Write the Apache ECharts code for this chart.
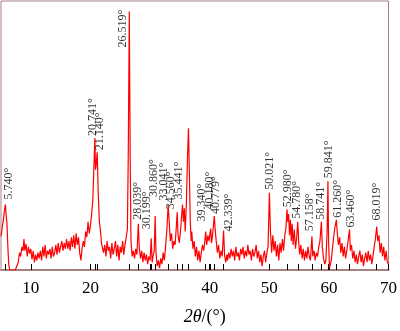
<!DOCTYPE html>
<html>
<head>
<meta charset="utf-8">
<script src="https://cdn.jsdelivr.net/npm/echarts@6/dist/echarts.min.js"></script>
<style>
  html, body { margin: 0; padding: 0; background: #ffffff; }
  #chart { width: 400px; height: 331px; }
</style>
</head>
<body>
<div id="chart"></div>
<script>
// Axis ticks along 2θ
const xTicks = [10, 20, 30, 40, 50, 60, 70];

// Indexed reflections (2θ, degrees)
const peakAngles = [5.74, 20.741, 21.14, 26.519, 28.039, 30.199, 30.86, 33.041, 34.56, 35.441,
  39.34, 40.18, 40.779, 42.339, 50.021, 52.98, 54.78, 57.158, 58.741, 59.841, 61.26, 63.46, 68.019];

// Reference stick without a text label
const extraSticks = [36.45];

// Diffraction pattern: [2θ, intensity]
const profile = [
  [5.0,35],[5.2,44],[5.4,52],[5.6,63],[5.74,68],[5.85,58],[6.0,48],[6.15,24],[6.3,6],[6.45,0],
  [6.6,0],[7.0,0],[7.4,0],[7.7,0],[7.9,8],[8.1,18],[8.3,14],[8.5,24],[8.7,20],[8.85,32],
  [9.0,20],[9.2,27],[9.4,14],[9.6,24],[9.8,17],[10.0,22],[10.2,11],[10.4,20],[10.6,8],[10.8,16],
  [11.0,10],[11.2,18],[11.4,12],[11.6,20],[11.8,10],[12.0,24],[12.2,14],[12.4,26],[12.6,12],[12.8,20],
  [13.0,16],[13.2,22],[13.4,12],[13.6,24],[13.8,14],[14.0,18],[14.2,26],[14.4,16],[14.6,28],[14.8,18],
  [15.0,24],[15.2,30],[15.4,20],[15.6,28],[15.8,22],[16.0,32],[16.2,22],[16.4,30],[16.6,20],[16.8,34],
  [17.0,24],[17.2,36],[17.4,22],[17.6,38],[17.8,26],[18.0,34],[18.2,18],[18.4,10],[18.6,22],[18.8,30],
  [19.0,24],[19.2,40],[19.4,34],[19.6,50],[19.8,38],[20.0,46],[20.2,58],[20.4,72],[20.6,110],[20.741,137],
  [20.85,104],[20.95,108],[21.14,122],[21.3,82],[21.5,50],[21.7,40],[21.85,28],[22.0,30],[22.2,18],[22.4,26],
  [22.6,14],[22.8,30],[23.0,20],[23.2,24],[23.4,12],[23.6,28],[23.8,16],[24.0,22],[24.2,30],[24.4,14],
  [24.6,26],[24.8,10],[25.0,24],[25.2,18],[25.4,30],[25.6,16],[25.8,26],[26.0,34],[26.2,42],[26.35,120],
  [26.519,268],[26.68,110],[26.8,30],[27.0,14],[27.2,20],[27.4,12],[27.6,22],[27.8,16],[28.039,48],[28.2,22],
  [28.4,12],[28.6,20],[28.8,8],[29.0,18],[29.2,10],[29.4,16],[29.6,6],[29.8,14],[30.0,10],[30.199,33],
  [30.35,8],[30.5,14],[30.7,20],[30.86,56],[31.0,18],[31.2,4],[31.4,10],[31.6,2],[31.8,12],[32.0,6],
  [32.2,18],[32.4,10],[32.6,24],[32.8,40],[33.041,67],[33.2,52],[33.4,30],[33.6,38],[33.8,22],[34.0,30],
  [34.2,26],[34.4,44],[34.56,60],[34.7,36],[34.9,28],[35.1,40],[35.3,56],[35.441,68],[35.6,50],[35.75,64],
  [35.9,40],[36.1,70],[36.3,120],[36.45,147],[36.6,100],[36.75,50],[36.9,30],[37.0,40],[37.2,22],[37.4,30],
  [37.6,14],[37.8,24],[38.0,10],[38.2,20],[38.4,8],[38.6,18],[38.8,26],[39.0,20],[39.2,30],[39.34,40],
  [39.5,26],[39.7,36],[39.9,30],[40.05,38],[40.18,43],[40.3,28],[40.45,34],[40.6,44],[40.779,56],[40.9,44],
  [41.1,30],[41.3,18],[41.5,26],[41.7,12],[41.9,20],[42.1,14],[42.339,41],[42.5,16],[42.7,8],[42.9,16],
  [43.0,10],[43.2,18],[43.4,12],[43.6,22],[43.8,14],[44.0,20],[44.2,10],[44.4,24],[44.6,14],[44.8,18],
  [45.0,10],[45.2,22],[45.4,16],[45.6,24],[45.8,12],[46.0,20],[46.2,14],[46.4,26],[46.6,16],[46.8,20],
  [47.0,10],[47.2,22],[47.4,14],[47.6,18],[47.8,26],[48.0,12],[48.2,20],[48.4,8],[48.6,16],[48.8,4],
  [49.0,14],[49.2,20],[49.4,8],[49.6,18],[49.8,24],[50.021,80],[50.2,40],[50.4,18],[50.6,36],[50.8,20],
  [51.0,30],[51.2,14],[51.4,26],[51.6,10],[51.8,28],[52.0,18],[52.2,32],[52.4,20],[52.6,36],[52.8,44],
  [52.98,63],[53.1,50],[53.25,58],[53.4,36],[53.55,52],[53.7,30],[53.85,48],[54.0,26],[54.2,42],[54.4,22],
  [54.6,34],[54.78,50],[54.95,28],[55.1,16],[55.3,26],[55.5,12],[55.7,22],[55.9,10],[56.1,20],[56.3,12],
  [56.5,24],[56.7,14],[56.9,10],[57.158,35],[57.3,14],[57.5,20],[57.7,10],[57.9,18],[58.1,14],[58.3,24],
  [58.5,30],[58.741,50],[58.9,24],[59.1,12],[59.3,6],[59.5,10],[59.7,40],[59.841,92],[59.95,30],[60.1,2],
  [60.25,0],[60.4,10],[60.6,22],[60.8,34],[61.0,44],[61.26,52],[61.4,40],[61.6,26],[61.8,34],[62.0,18],
  [62.2,28],[62.4,14],[62.6,24],[62.8,12],[63.0,20],[63.2,18],[63.46,42],[63.6,20],[63.8,26],[64.0,12],
  [64.2,20],[64.4,8],[64.6,16],[64.8,6],[65.0,14],[65.2,20],[65.4,8],[65.6,16],[65.8,4],[66.0,12],
  [66.2,18],[66.4,8],[66.6,20],[66.8,10],[67.0,16],[67.2,6],[67.4,14],[67.6,24],[67.8,32],[68.019,45],
  [68.2,30],[68.4,36],[68.6,18],[68.8,28],[69.0,14],[69.2,24],[69.4,10],[69.6,20],[69.8,8],[70.0,6]
];

// Label placement relative to each peak top, in pixels [dx, dy]
const labelShift = [
  [3, -5], [-2, -2], [3, -2], [-6, 36], [-1, -4], [-4, -9], [-1, -19], [-4, -5], [-6, -3], [-4, -5],
  [-4, -10], [-1, -19], [2, -2], [5, 1], [0, -3], [1, -2], [-1, -3], [-2, -5], [-1, -2], [1, -3],
  [1, -2], [1, -2], [0, -6]
];

const serif = '"Liberation Serif", "Times New Roman", serif';
const frameColor = '#a88080';

const peakHeights = peakAngles.map(a => profile.find(p => p[0] === a)[1]);
const peakPoints = peakAngles.map((a, i) => ({
  value: [a, peakHeights[i]],
  label: { position: labelShift[i] }
}));

const chart = echarts.init(document.getElementById('chart'), null, { renderer: 'canvas' });
chart.setOption({
  animation: false,
  backgroundColor: '#ffffff',
  grid: {
    left: 1, right: 10, top: 1, bottom: 51,
    show: true, borderColor: frameColor, borderWidth: 1, backgroundColor: 'transparent'
  },
  xAxis: {
    type: 'value',
    min: 5, max: 70,
    name: '{i|2θ}{n|/(°)}',
    nameLocation: 'middle',
    nameGap: 38,
    nameTextStyle: {
      padding: [0, 0, 0, 20],
      rich: {
        i: { fontFamily: serif, fontSize: 18, fontStyle: 'italic', color: '#000' },
        n: { fontFamily: serif, fontSize: 18, color: '#000' }
      }
    },
    axisLine: { show: true, onZero: false, lineStyle: { color: frameColor, width: 2 } },
    axisTick: {
      show: true, inside: true, length: 6,
      customValues: xTicks.concat(peakAngles, extraSticks),
      lineStyle: { color: '#000', width: 1 }
    },
    axisLabel: {
      customValues: xTicks, margin: 10,
      fontFamily: serif, fontSize: 17, color: '#000'
    },
    splitLine: { show: false }
  },
  yAxis: {
    type: 'value', min: 0, max: 279,
    axisLine: { show: false }, axisTick: { show: false },
    axisLabel: { show: false }, splitLine: { show: false }
  },
  series: [
    {
      type: 'line',
      data: profile,
      symbol: 'none',
      lineStyle: { color: '#ff0000', width: 1.2 },
      z: 3
    },
    {
      type: 'scatter',
      data: peakPoints,
      symbolSize: 0,
      silent: true,
      label: {
        show: true,
        rotate: 90,
        align: 'left',
        verticalAlign: 'middle',
        fontFamily: serif,
        fontSize: 12,
        color: '#000',
        formatter: p => p.value[0].toFixed(3) + '°'
      },
      z: 4
    }
  ]
});
</script>
</body>
</html>
